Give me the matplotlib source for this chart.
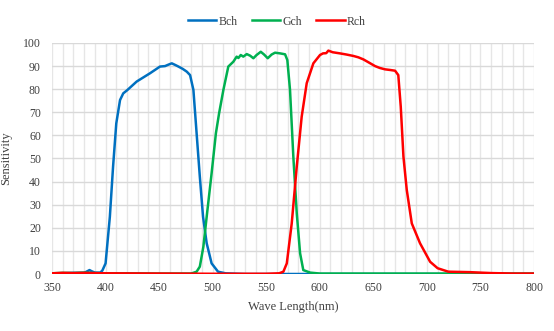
import matplotlib
matplotlib.use('Agg')
import matplotlib.pyplot as plt
from matplotlib.ticker import MultipleLocator

# spectral sensitivity of the three colour channels
bch_nm = [350, 360, 370, 380, 383, 385, 387, 390, 395, 397, 400, 404, 407, 410, 413.5,
          416.5, 420, 429, 441.5, 450.8, 455.5, 458, 461.8, 465, 468, 472, 475.8, 478.9,
          482, 485, 488, 491, 494.4, 499, 505, 512, 530, 600, 700, 800]
bch_val = [0.3, 0.3, 0.5, 0.5, 1.2, 1.7, 1.2, 0.6, 0.6, 1.5, 4.6, 24.8, 46.5, 65.2, 75.3,
           78.2, 79.5, 83.3, 86.9, 89.8, 90, 90.5, 91.2, 90.5, 89.8, 88.8, 87.6, 86.1,
           79.7, 60.9, 42.1, 24.8, 13.3, 4.6, 1.0, 0.3, 0, 0, 0, 0]

gch_nm = [350, 360, 370, 380, 390, 400, 420, 450, 480, 485, 488, 491.3, 494.4, 499, 503,
          506, 510, 514.6, 519.3, 522.4, 524, 526.2, 528.6, 531.8, 535, 538, 541, 544.9,
          548, 551.4, 555, 558.2, 563, 567.6, 569.7, 572.2, 575.3, 578.5, 581.6, 584.6,
          591, 600, 700, 800]
gch_val = [0.3, 0.5, 0.4, 0.6, 0.4, 0.3, 0.3, 0.2, 0.2, 1.0, 3.2, 11.8, 24.8, 43.6, 60.9,
           69.6, 79.7, 89.8, 91.9, 94.1, 93.5, 94.8, 94.1, 95.2, 94.5, 93.4, 94.8, 96.2,
           95, 93.4, 95, 95.8, 95.5, 95.1, 92.6, 79.7, 50.8, 26.3, 9, 1.7,
           0.6, 0.2, 0.2, 0.2]

rch_nm = [350, 360, 370, 380, 400, 450, 500, 550, 562, 566, 569.2, 573.8, 578.5, 583.1,
          587.8, 594, 600.2, 603, 606, 608, 612, 618.9, 625, 631.3, 636, 640.7, 646, 651.6,
          656, 660.9, 666, 670.3, 673.3, 675.6, 678.1, 681.2, 685.9, 693.6, 703, 710, 720,
          740, 760, 780, 800]
rch_val = [0.3, 0.5, 0.4, 0.5, 0.3, 0.2, 0.1, 0.1, 0.3, 1, 4.6, 21.9, 46.5, 68.1,
           82.6, 91.2, 94.8, 95.5, 95.6, 96.7, 96, 95.5, 95, 94.4, 93.8, 92.9, 91.5, 90,
           89.2, 88.6, 88.3, 88, 86.1, 72.4, 50.8, 36.4, 21.9, 13.3, 5.3, 2.5, 1.0,
           0.8, 0.4, 0.2, 0.2]

plt.rcParams['font.family'] = ['Liberation Serif', 'DejaVu Serif']

fig = plt.figure(figsize=(5.54, 3.31), dpi=100)
ax = fig.add_axes([0.0939, 0.1722, 0.87, 0.6979])

ax.plot(bch_nm, bch_val, color='#0070C0', lw=1.8, label='Bch')
ax.plot(gch_nm, gch_val, color='#00B050', lw=1.8, label='Gch')
ax.plot(rch_nm, rch_val, color='#FF0000', lw=1.8, label='Rch')

ax.set_xlim(350, 800)
ax.set_ylim(0, 100)
ax.xaxis.set_major_locator(MultipleLocator(50))
ax.xaxis.set_minor_locator(MultipleLocator(10))
ax.yaxis.set_major_locator(MultipleLocator(10))
ax.grid(which='major', axis='y', color='#D9D9D9', lw=1.0)
ax.grid(which='both', axis='x', color='#E6E6E6', lw=1.0)
ax.set_axisbelow(True)
for s in ax.spines.values():
    s.set_visible(False)
ax.tick_params(which='both', length=0, labelsize=8.5, labelcolor='#404040')
ax.tick_params(axis='x', pad=6)
ax.tick_params(axis='y', pad=8)

ax.set_xlabel('Wave Length(nm)', fontsize=9, color='#404040', labelpad=5)
ax.set_ylabel('Sensitivity', fontsize=9, color='#404040', labelpad=8)

fig.legend(loc='upper center', bbox_to_anchor=(0.5, 0.985), ncol=3, frameon=False,
           fontsize=8.5, handlelength=2.4, handletextpad=0.2, columnspacing=1.2,
           labelcolor='#404040')

fig.savefig('out.png', dpi=100)
